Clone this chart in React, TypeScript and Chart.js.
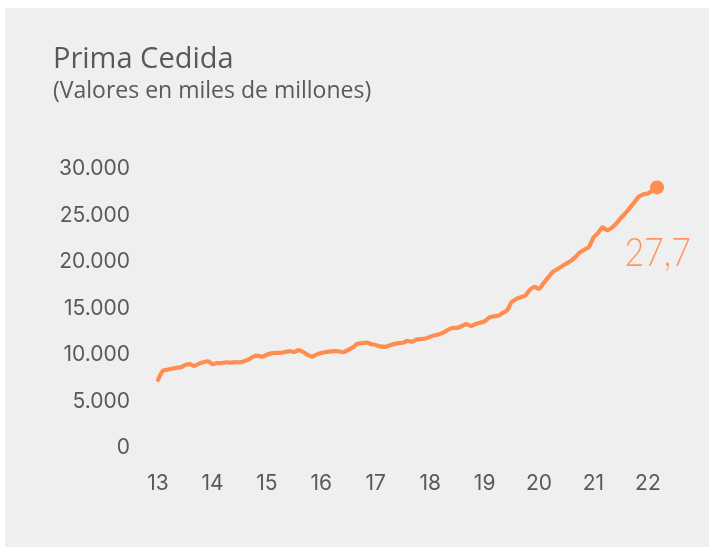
import React, { useEffect, useRef } from 'react';
import { Chart, registerables } from 'chart.js';

Chart.register(...registerables);

// ---- data ----
const yearLabels = ['13', '14', '15', '16', '17', '18', '19', '20', '21', '22'];

// Monthly "Prima Cedida" values, Jan 2013 onwards
const primaCedida = [
  7000, 7950, 8100, 8200, 8300, 8350, 8600, 8700, 8500, 8750, 8900, 9000,
  8700, 8800, 8800, 8900, 8850, 8900, 8900, 9000, 9200, 9500, 9600, 9500,
  9700, 9850, 9900, 9900, 10000, 10100, 10000, 10200, 10000, 9700, 9500, 9750,
  9900, 10000, 10050, 10100, 10050, 10000, 10250, 10500, 10900, 10950, 11000, 10850,
  10750, 10600, 10550, 10700, 10850, 10950, 11000, 11200, 11100, 11350, 11400, 11450,
  11650, 11800, 11900, 12100, 12400, 12600, 12600, 12800, 13000, 12800, 13000, 13150,
  13300, 13700, 13850, 13900, 14200, 14500, 15400, 15700, 15900, 16100, 16700, 17000,
  16800, 17400, 18000, 18600, 18900, 19200, 19500, 19800, 20200, 20700, 21000, 21300,
  22300, 22800, 23400, 23100, 23350, 23800, 24400, 24900, 25500, 26100, 26700, 26950,
  27050, 27350, 27700,
];

const lastValueLabel = '27,7';
const titleText = 'Prima Cedida';
const subtitleText = '(Valores en miles de millones)';
const yMin = 0;
const yMax = 30000;
const yStep = 5000;

const ORANGE = 'rgb(255,141,80)';
const GREY = '#5d5854';

const monthLabels = primaCedida.map((_, i) => (i % 12 === 0 ? yearLabels[i / 12] ?? '' : ''));

const fmt = (v: number) => String(Math.round(v)).replace(/\B(?=(\d{3})+(?!\d))/g, '.');

const lastLabelPlugin = {
  id: 'lastLabel',
  afterDatasetsDraw(chart: any) {
    const meta = chart.getDatasetMeta(0);
    const pt = meta.data[meta.data.length - 1];
    if (!pt) return;
    const ctx = chart.ctx;
    ctx.save();
    ctx.fillStyle = 'rgb(255,150,95)';
    ctx.font = '300 40px Lato';
    ctx.textAlign = 'right';
    ctx.textBaseline = 'middle';
    const x = pt.x + 34;
    const y = pt.y + 66;
    ctx.translate(x, y);
    ctx.scale(0.85, 1);
    ctx.fillText(lastValueLabel, 0, 0);
    ctx.restore();
  },
};

export default function App() {
  const ref = useRef<HTMLCanvasElement | null>(null);

  useEffect(() => {
    if (!ref.current) return;
    const chart = new Chart(ref.current, {
      type: 'line',
      data: {
        labels: monthLabels,
        datasets: [
          {
            data: primaCedida,
            borderColor: ORANGE,
            backgroundColor: ORANGE,
            borderWidth: 4.2,
            tension: 0.25,
            clip: false as any,
            pointRadius: (c: any) => (c.dataIndex === primaCedida.length - 1 ? 7 : 0),
            pointHoverRadius: 0,
            pointBorderWidth: 0,
            pointBackgroundColor: ORANGE,
            borderCapStyle: 'round',
            borderJoinStyle: 'round',
          },
        ],
      },
      options: {
        animation: false,
        responsive: false,
        events: [],
        layout: { padding: { left: 48, right: 52, top: 0, bottom: 0 } },
        plugins: {
          legend: { display: false },
          tooltip: { enabled: false },
          title: {
            display: true,
            text: titleText,
            align: 'start',
            color: GREY,
            font: { family: 'Open Sans', size: 29, weight: 'normal', lineHeight: 1.2 },
            padding: { top: 34, bottom: 1 },
          },
          subtitle: {
            display: true,
            text: subtitleText,
            align: 'start',
            color: GREY,
            font: { family: 'Open Sans', size: 23, weight: 'normal', lineHeight: 1.2 },
            padding: { top: 0, bottom: 60.6 },
          },
        },
        scales: {
          x: {
            type: 'category',
            offset: false,
            grid: { display: false, drawTicks: false },
            border: { display: false },
            ticks: {
              autoSkip: false,
              maxRotation: 0,
              minRotation: 0,
              padding: 26,
              color: GREY,
              font: { family: 'Inter', size: 21 },
              callback: (_v: any, i: number) => monthLabels[i],
            },
            afterFit: (s: any) => {
              s.height = 102;
            },
          },
          y: {
            min: yMin,
            max: yMax,
            grid: { display: false, drawTicks: false },
            border: { display: false },
            ticks: {
              stepSize: yStep,
              padding: 28,
              labelOffset: 3,
              color: GREY,
              font: { family: 'Inter', size: 21 },
              callback: (v: any) => fmt(Number(v)),
            },
            afterFit: (s: any) => {
              s.width = 105;
            },
          },
        },
      },
      plugins: [lastLabelPlugin],
    } as any);
    return () => chart.destroy();
  }, []);

  return (
    <div
      style={{
        position: 'fixed',
        left: 5,
        top: 8,
        width: 704,
        height: 539,
        background: '#efefef',
      }}
    >
      <canvas ref={ref} width={704} height={539} style={{ display: 'block' }} />
    </div>
  );
}
